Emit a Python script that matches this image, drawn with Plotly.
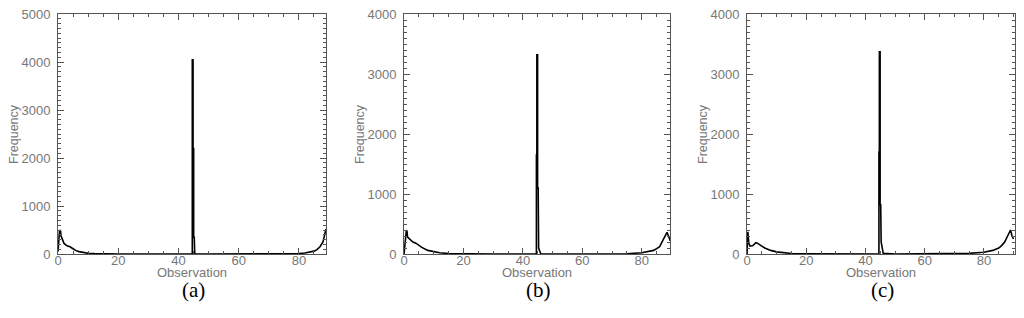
import plotly.graph_objects as go

# ---- data ----
x_a = [0, 0.3, 0.5, 0.8, 1.0, 1.5, 2, 3, 4, 5, 6, 7, 8, 10, 12, 15, 20, 30, 40, 44.5,
       44.6, 44.6, 44.85, 44.85, 45.05, 45.05, 45.25, 45.4, 45.6, 50, 60, 70, 75, 80, 82, 84, 85, 86, 87, 88, 88.5, 89]
y_a = [50, 300, 480, 500, 380, 300, 220, 170, 150, 110, 70, 50, 35, 15, 8, 3, 1, 0, 0, 0,
       0, 4050, 4050, 2200, 2200, 350, 350, 20, 0, 0, 0, 2, 5, 10, 20, 40, 60, 90, 150, 250, 380, 520]

x_b = [0, 0.5, 0.8, 1.0, 1.2, 2, 3, 4, 5, 6, 8, 10, 12, 15, 20, 30, 40, 44.4,
       44.55, 44.55, 44.7, 44.7, 44.95, 44.95, 45.15, 45.3, 45.6, 46, 50, 60, 70, 75, 80, 84, 85, 86, 87, 88, 88.5, 89, 89.5, 90]
y_b = [0, 200, 400, 380, 280, 250, 200, 180, 140, 110, 60, 35, 20, 8, 2, 0, 0, 0,
       0, 1650, 1650, 3320, 3320, 1100, 1100, 100, 40, 5, 0, 0, 2, 5, 20, 60, 90, 120, 220, 330, 360, 300, 230, 230]

x_c = [0, 0.3, 0.6, 1.0, 2, 3, 3.5, 4, 5, 6, 8, 10, 12, 15, 20, 30, 40, 44.4,
       44.55, 44.55, 44.7, 44.7, 44.95, 44.95, 45.15, 45.3, 45.6, 46, 50, 60, 70, 75, 80, 83, 85, 86, 87, 88, 89, 89.5, 90]
y_c = [0, 370, 180, 130, 140, 190, 180, 160, 130, 100, 60, 35, 20, 8, 3, 1, 0, 0,
       0, 1700, 1700, 3370, 3370, 820, 820, 200, 80, 10, 0, 0, 5, 10, 30, 60, 100, 140, 200, 290, 400, 300, 250]

panels = [("(a)", x_a, y_a, 5000, 89), ("(b)", x_b, y_b, 4000, 89.5), ("(c)", x_c, y_c, 4000, 90.5)]
x_ticks = [0, 20, 40, 60, 80]

# page body has an 8px margin: lay the figure out in window pixels minus 8
OFF = 8
W, H = 1024 - OFF, 318 - OFF
x_domains_px = [(58, 326), (404, 670), (747, 1015)]
y_top_px, y_bot_px = 14, 254


def fx(px):
    return (px - OFF) / W


def fy(py):
    return (H - (py - OFF)) / H


fig = go.Figure()
gray = "#777777"
tickfont = dict(family="Liberation Sans, Arial, sans-serif", size=13, color=gray)

for i, (cap, xs, ys, ymax, xmax) in enumerate(panels):
    n = "" if i == 0 else str(i + 1)
    fig.add_trace(go.Scatter(x=xs, y=ys, mode="lines", line=dict(color="black", width=1.6, shape="linear"),
                             xaxis="x" + n, yaxis="y" + n, showlegend=False))
    l, r = x_domains_px[i]
    axcommon = dict(showline=True, linecolor="#555555", linewidth=1, mirror="ticks", ticks="inside",
                    tickcolor="#555555", ticklen=6, showgrid=False, zeroline=False, tickfont=tickfont,
                    automargin=False, ticklabeloverflow="allow")
    fig.update_layout(**{
        "xaxis" + n: dict(domain=[fx(l), fx(r)], range=[0, xmax], tickvals=x_ticks, anchor="y" + n,
                          ticklabelstandoff=-6,
                          minor=dict(dtick=5, tick0=0, ticks="inside", ticklen=3, tickcolor="#555555"),
                          **axcommon),
        "yaxis" + n: dict(domain=[fy(y_bot_px), fy(y_top_px)], range=[0, ymax * 1.0004],
                          tickvals=list(range(0, ymax + 1, 1000)), anchor="x" + n,
                          ticklabelstandoff=4,
                          minor=dict(dtick=100, tick0=0, ticks="inside", ticklen=3, tickcolor="#555555"),
                          **axcommon),
    })
    ann = dict(xref="paper", yref="paper", showarrow=False, xanchor="center", yanchor="middle")
    fig.add_annotation(text="Observation", x=fx((l + r) / 2), y=fy(272),
                       font=dict(family="Liberation Sans, Arial, sans-serif", size=13, color=gray), **ann)
    fig.add_annotation(text="Frequency", x=fx(l - 44), y=fy(134), textangle=-90,
                       font=dict(family="Liberation Sans, Arial, sans-serif", size=12.5, color=gray), **ann)
    fig.add_annotation(text=cap, x=fx((l + r) / 2 + 1), y=fy(290),
                       font=dict(family="Liberation Serif, Times New Roman, serif", size=21, color="black"), **ann)

fig.update_layout(width=W, height=H, margin=dict(l=0, r=0, t=0, b=0, pad=0, autoexpand=False),
                  paper_bgcolor="white", plot_bgcolor="white")
fig.write_html("out.html")
